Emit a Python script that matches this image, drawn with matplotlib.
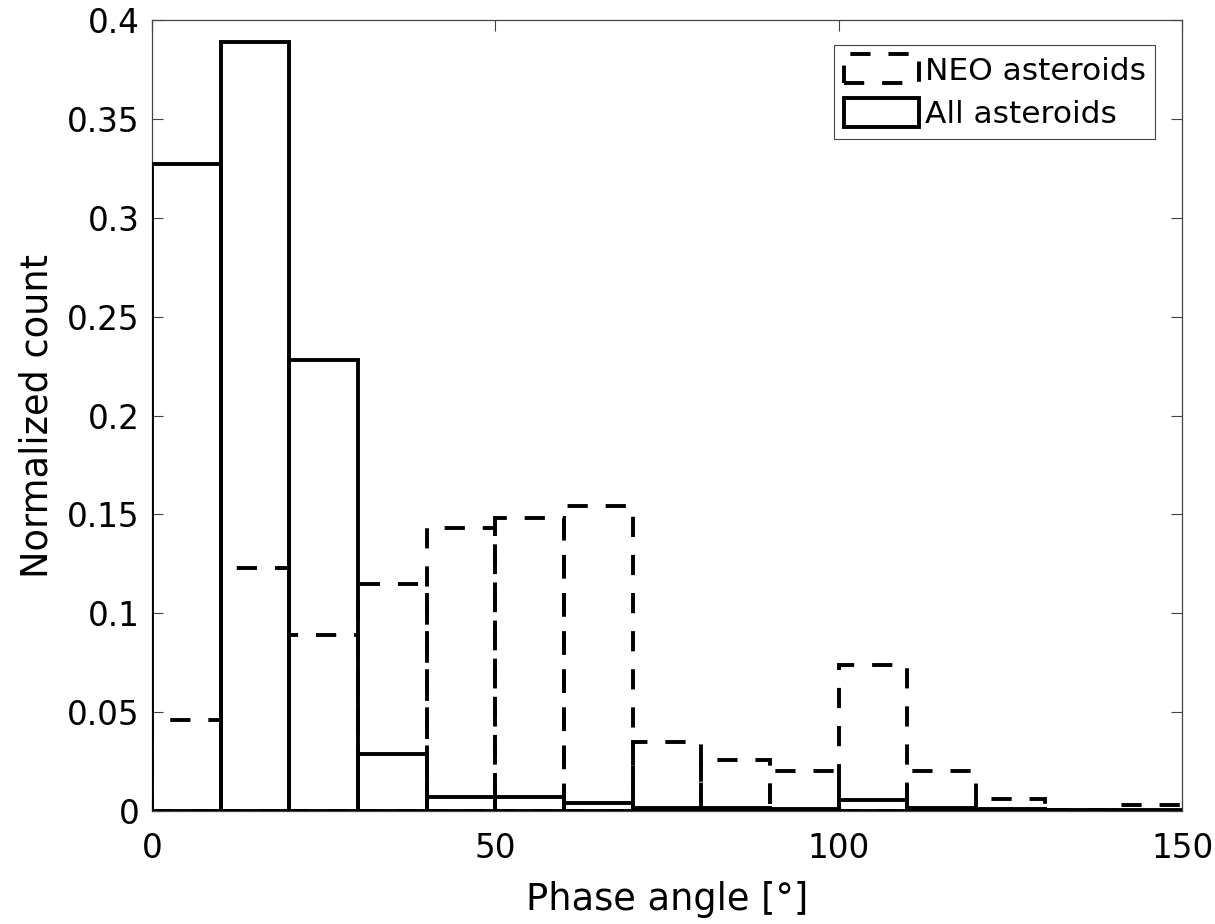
import matplotlib
matplotlib.use("Agg")
import matplotlib.pyplot as plt
from matplotlib.ticker import FuncFormatter
import numpy as np

plt.rcParams['font.family'] = ['DejaVu Sans']

bin_edges = [0, 10, 20, 30, 40, 50, 60, 70, 80, 90, 100, 110, 120, 130, 140, 150]
neo_counts = [0.046, 0.123, 0.089, 0.115, 0.143, 0.148, 0.154, 0.035, 0.026, 0.020,
              0.074, 0.020, 0.006, 0.0003, 0.003]
all_counts = [0.327, 0.389, 0.228, 0.029, 0.007, 0.007, 0.004, 0.0015, 0.0015, 0.001,
              0.0055, 0.0015, 0.001, 0.0005, 0.0005]
x_ticks = [0, 50, 100, 150]
y_ticks = [0, 0.05, 0.1, 0.15, 0.2, 0.25, 0.3, 0.35, 0.4]

fig = plt.figure(figsize=(12.15, 9.24), dpi=100)
ax = fig.add_axes([0.125, 0.1223, 0.848, 0.856])

left = np.array(bin_edges[:-1])
widths = np.diff(bin_edges)
ax.bar(left, neo_counts, width=widths, align='edge', fill=False, edgecolor='black',
       linewidth=2.8, linestyle=(0, (5.2, 4.6)), label='NEO asteroids', zorder=2)
ax.bar(left, all_counts, width=widths, align='edge', fill=False, edgecolor='black',
       linewidth=2.8, linestyle='-', label='All asteroids', zorder=3)

ax.set_xlim(0, 150)
ax.set_ylim(0, 0.4)
ax.set_xticks(x_ticks)
ax.set_yticks(y_ticks)
ax.yaxis.set_major_formatter(FuncFormatter(lambda v, p: f"{v:g}"))
ax.tick_params(direction='in', length=8, width=0.8, top=True, right=True,
               labelsize=23.5, color='#444444')
ax.tick_params(axis='y', pad=9)
ax.tick_params(axis='x', pad=15)
for s in ax.spines.values():
    s.set_linewidth(0.9)
    s.set_color('#444444')

ax.set_xlabel('Phase angle [°]', fontsize=26.5, labelpad=12)
ax.set_ylabel('Normalized count', fontsize=26.5, labelpad=8)

leg = ax.legend(loc='upper right', fontsize=22.5, handlelength=2.4, handleheight=1.05,
                handletextpad=0.2, borderpad=0.3, labelspacing=0.4,
                fancybox=False, framealpha=1, bbox_to_anchor=(0.9738, 0.9684),
                borderaxespad=0)
leg.get_frame().set_edgecolor('#444444')
leg.get_frame().set_linewidth(0.8)

fig.savefig('out.png', dpi=100)
